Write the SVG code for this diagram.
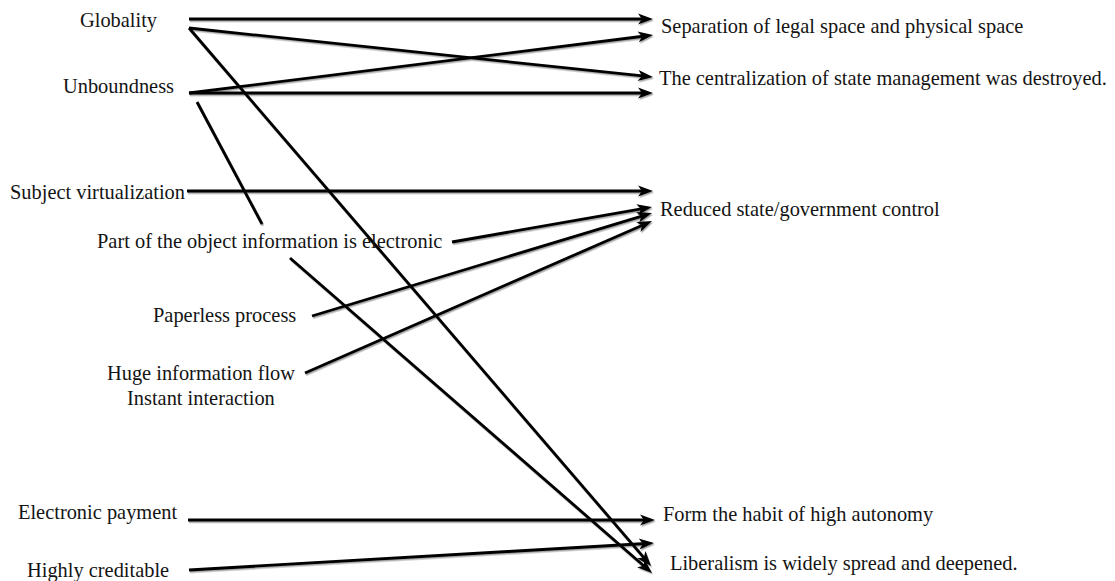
<svg xmlns="http://www.w3.org/2000/svg" width="1115" height="581" viewBox="0 0 1115 581">
<style>
text{font-family:"Liberation Serif","Times New Roman",serif;font-size:20.4px;fill:#141414}
.c line{stroke:#000;stroke-width:2.8;fill:none}
.a{marker-end:url(#ah)}
</style>
<defs>
<marker id="ah" markerWidth="20" markerHeight="14" viewBox="-8 -7 20 14" refX="0" refY="0" orient="auto" markerUnits="userSpaceOnUse">
<path d="M8,0 L-7,-5.5 L-3,0 L-7,5.5 Z" fill="#000"/>
</marker>
<filter id="sh" x="-5%" y="-5%" width="110%" height="110%">
<feDropShadow dx="1" dy="1.5" stdDeviation="0.6" flood-color="#000" flood-opacity="0.35"/>
</filter>
</defs>
<rect width="1115" height="581" fill="#fff"/>
<g id="connectors" class="c" filter="url(#sh)">
<line class="a" x1="189" y1="19" x2="645" y2="19"/>
<line class="a" x1="189" y1="28" x2="645" y2="76.2"/>
<line class="a" x1="189" y1="28" x2="645.8" y2="559.9"/>
<line class="a" x1="189" y1="93" x2="645.1" y2="36"/>
<line class="a" x1="189" y1="93" x2="645" y2="93"/>
<line x1="197" y1="102" x2="262" y2="224"/>
<line class="a" x1="187" y1="191" x2="645" y2="191"/>
<line class="a" x1="452" y1="242" x2="644.1" y2="208.4"/>
<line class="a" x1="312" y1="316" x2="644.3" y2="215.3"/>
<line class="a" x1="305" y1="373" x2="644.7" y2="224.2"/>
<line class="a" x1="290" y1="258" x2="646" y2="567.7"/>
<line class="a" x1="188" y1="520" x2="647" y2="520"/>
<line class="a" x1="189" y1="570" x2="646" y2="543.5"/>
</g>
<g id="n-globality"><text x="80" y="27">Globality</text></g>
<g id="n-unboundness"><text x="63" y="92.5">Unboundness</text></g>
<g id="n-subject"><text x="10" y="199">Subject virtualization</text></g>
<g id="n-part"><text x="97" y="248">Part of the object information is electronic</text></g>
<g id="n-paperless"><text x="153" y="322">Paperless process</text></g>
<g id="n-huge"><text x="107" y="380">Huge information flow</text><text x="127" y="405">Instant interaction</text></g>
<g id="n-epay"><text x="18" y="519">Electronic payment</text></g>
<g id="n-credit"><text x="27" y="577">Highly creditable</text></g>
<g id="n-separation"><text x="661" y="33">Separation of legal space and physical space</text></g>
<g id="n-central"><text x="659" y="85">The centralization of state management was destroyed.</text></g>
<g id="n-reduced"><text x="660" y="216">Reduced state/government control</text></g>
<g id="n-habit"><text x="663" y="521">Form the habit of high autonomy</text></g>
<g id="n-liberal"><text x="670" y="570">Liberalism is widely spread and deepened.</text></g>
</svg>
